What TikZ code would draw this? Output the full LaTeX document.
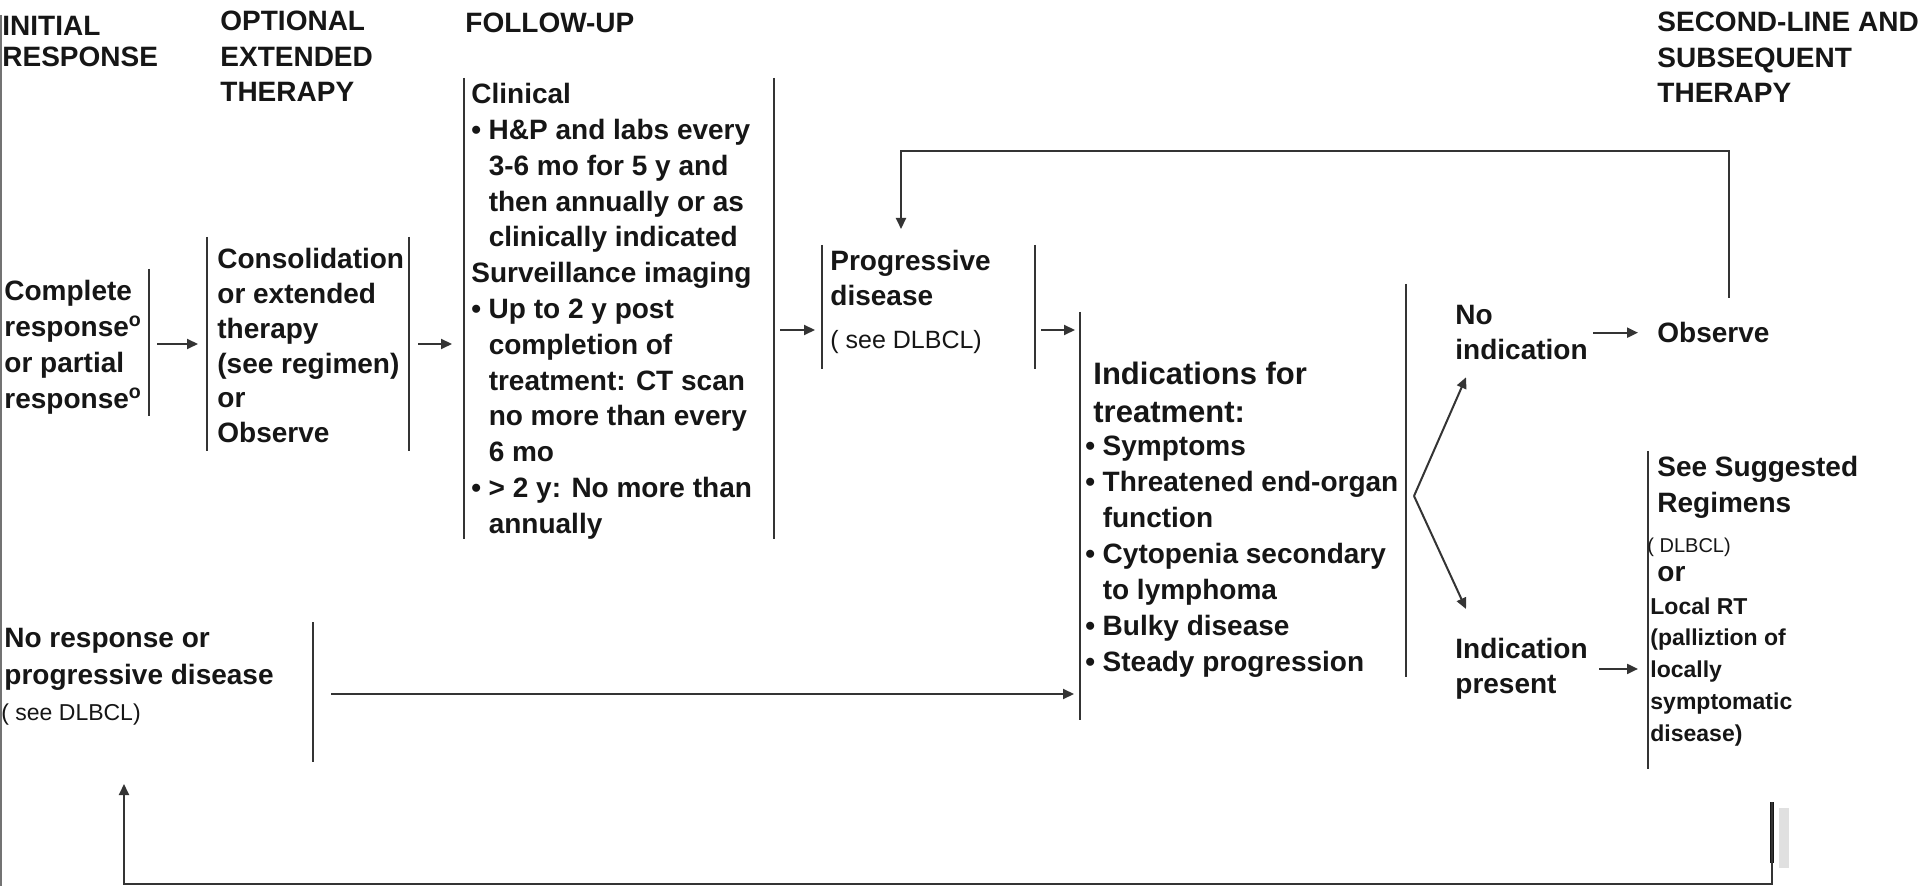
\documentclass[tikz,border=0pt]{standalone}
\usepackage{fontspec}
\setmainfont{Liberation Sans}
\usetikzlibrary{arrows.meta,calc}
\definecolor{ink}{HTML}{161616}
\definecolor{rulecol}{HTML}{343434}
% bullet and matching hanging indent for continuation lines
\newcommand\bul{\makebox[0.62em][l]{\textbullet}}
\newcommand\cont{\hspace*{0.62em}}
% invisible frame node spanning (x1,y1)-(x2,y2) in pixel units
\newcommand\brk[5]{\node[frm,minimum width={(#4-#2)*0.5pt},minimum height={(#5-#3)*0.5pt}] (#1) at ({(#2+#4)/2},{(#3+#5)/2}) {};}
\begin{document}
\begin{tikzpicture}[x=0.5pt,y=-0.5pt,
  every node/.style={text=ink},
  hd/.style={font=\bfseries\fontsize{14}{17.75}\selectfont,align=left,inner sep=0pt,anchor=north west},
  tx/.style={font=\bfseries\fontsize{14}{#1}\selectfont,align=left,inner sep=0pt,anchor=north west},
  tx/.default=18,
  note/.style={font=\fontsize{#1}{#1}\selectfont,inner sep=0pt,anchor=north west},
  frm/.style={inner sep=0pt,outer sep=0pt},
  bar/.style={draw=rulecol,line width=1pt},
  arr/.style={draw=rulecol,line width=1pt,-{Triangle[length=5.5pt,width=5pt]}},
]
\useasboundingbox (0,0) rectangle (1920,886);
\fill[white] (0,0) rectangle (1920,886);

% page rule on the left
\draw[draw=black!55,line width=1pt] (1,15) -- (1,886);

% column headings
\node[hd,font=\bfseries\fontsize{14}{15.3}\selectfont] (hInit) at (2,16) {INITIAL\\RESPONSE};
\node[hd] (hOpt) at (220,11) {OPTIONAL\\EXTENDED\\THERAPY};
\node[hd] (hFu) at (465,13) {FOLLOW-UP};
\node[hd] (hSec) at (1657,12) {SECOND-LINE AND\\SUBSEQUENT\\THERAPY};

% frames
\brk{cr}{1}{269}{149}{416}
\brk{cons}{207}{237}{409}{451}
\brk{fu}{464}{78}{774}{539}
\brk{pd}{822}{245}{1035}{369}
\brk{ind}{1080}{284}{1406}{720}
\brk{nr}{1}{622}{313}{762}
\brk{sec}{1648}{451}{1780}{769}

\draw[bar] (cr.north east) -- (cr.south east);
\draw[bar] (cons.north west) -- (cons.south west) (cons.north east) -- (cons.south east);
\draw[bar] (fu.north west) -- (fu.south west) (fu.north east) -- (fu.south east);
\draw[bar] (pd.north west) -- (pd.south west) (pd.north east) -- (pd.south east);
\draw[bar] ([yshift=-14pt]ind.north west) -- (ind.south west);
\draw[bar] (ind.north east) -- ([yshift=21.5pt]ind.south east);
\draw[bar] (nr.north east) -- (nr.south east);
\draw[bar] (sec.north west) -- (sec.south west);

% texts
\node[tx] (tCr) at (4,280) {Complete\\response\textsuperscript{o}\\or partial\\response\textsuperscript{o}};
\node[tx=17.4] (tCons) at (217,248) {Consolidation\\or extended\\therapy\\(see regimen)\\or\\Observe};
\node[tx=17.9] (tFu) at (471,83) {Clinical\\\bul H\&P and labs every\\\cont 3-6 mo for 5 y and\\\cont then annually or as\\\cont clinically indicated\\Surveillance imaging\\\bul Up to 2 y post\\\cont completion of\\\cont treatment: CT scan\\\cont no more than every\\\cont 6 mo\\\bul > 2 y: No more than\\\cont annually};
\node[tx=17.5] (tPd) at (830,250) {Progressive\\disease};
\node[note=12.5] (tPdSee) at (830,330) {( see DLBCL)};
\node[tx=19,font=\bfseries\fontsize{15.5}{19}\selectfont] (tIndH) at (1093,362) {Indications for\\treatment:};
\node[tx=18] (tIndL) at (1085,436) {\bul Symptoms\\\bul Threatened end-organ\\\cont function\\\bul Cytopenia secondary\\\cont to lymphoma\\\bul Bulky disease\\\bul Steady progression};
\node[tx=17.5] (tNo) at (1455,305) {No\\indication};
\node[tx] (tObs) at (1657,322) {Observe};
\node[tx=17.5] (tYes) at (1455,638) {Indication\\present};
\node[tx=17.75] (tSec) at (1657,456) {See Suggested\\Regimens};
\node[note=10] (tSecDl) at (1647,538) {( DLBCL)};
\node[tx] (tSecOr) at (1657,566) {or};
\node[tx=15.9,font=\bfseries\fontsize{11.5}{15.9}\selectfont] (tSecRt) at (1650,597) {Local RT\\(palliztion of\\locally\\symptomatic\\disease)};
\node[tx=18.5] (tNr) at (4,628) {No response or\\progressive disease};
\node[note=11.5] (tNrSee) at (1,703) {( see DLBCL)};

% forward connectors
\draw[arr] ($(cr.east|-cons.west)+(8,0)$) -- ($(cons.west)+(-9,0)$);
\draw[arr] ($(cons.east)+(9,0)$) -- ($(fu.west|-cons.east)+(-12,0)$);
\draw[arr] ($(fu.east)+(6,21.5)$) -- ($(pd.west)+(-7,23)$);
\draw[arr] ($(pd.east)+(6,23)$) -- ($(ind.west|-pd.east)+(-5,23)$);
\draw[arr] ($(nr.east)+(18,2)$) -- ($(ind.west|-nr.east)+(-6,2)$);

% decision fork
\coordinate (fork) at ($(ind.east)+(8,-6)$);
\draw[arr] (fork) -- ($(tNo.south west)+(11,17)$);
\draw[arr] (fork) -- ($(tYes.north west)+(11,-29)$);
\draw[arr] ($(tNo.east|-tObs.west)+(5,0)$) -- ($(tObs.west)+(-19,0)$);
\draw[arr] ($(tYes.east)+(11,0)$) -- ($(sec.west|-tYes.east)+(-10,0)$);

% return loops
\draw[arr] ($(tObs.north)+(16,-24)$) |- ($(pd.north west)+(79,-94)$) -- ($(pd.north west)+(79,-16)$);
\coordinate (ret) at (1772,802);
\coordinate (nrIn) at (124,784);
\fill[black!12] (1779,808) rectangle (1789,868);
\draw[draw=ink,line width=2pt] (ret) -- ++(0,61);
\draw[arr] (ret) -- ++(0,82) -| (nrIn);
\end{tikzpicture}
\end{document}
